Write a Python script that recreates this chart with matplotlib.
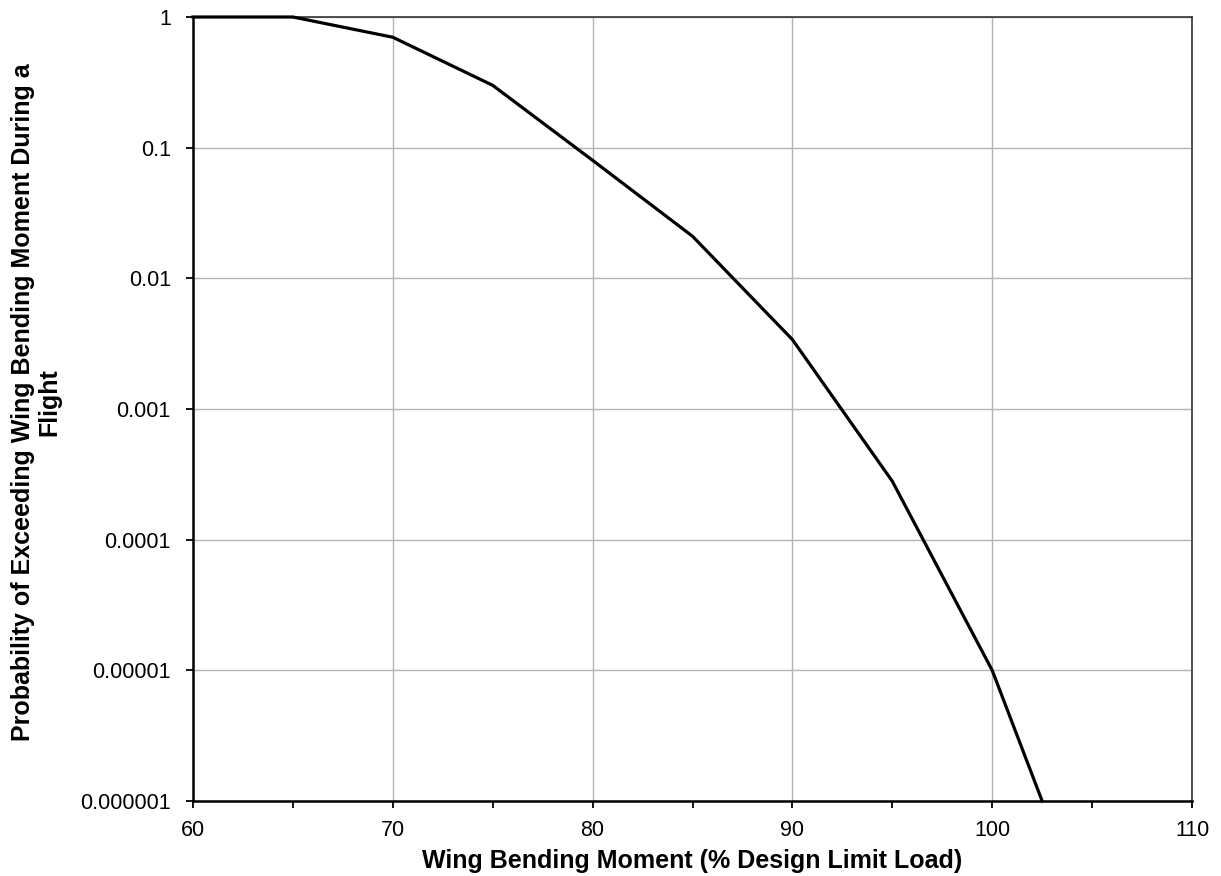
import matplotlib
matplotlib.use("Agg")
import matplotlib.pyplot as plt
from matplotlib.ticker import FixedLocator, NullLocator

# Data
bending_moment = [60, 65, 70, 75, 80, 85, 90, 95, 100, 102.5]
probability = [1.0, 1.0, 0.7, 0.3, 0.08, 0.021, 0.0034, 0.00028, 0.00001, 0.000001]
y_ticks = [1, 0.1, 0.01, 0.001, 0.0001, 0.00001, 0.000001]
y_tick_labels = ["1", "0.1", "0.01", "0.001", "0.0001", "0.00001", "0.000001"]
x_major = [60, 70, 80, 90, 100, 110]
x_minor = [65, 75, 85, 95, 105]
x_title = 'Wing Bending Moment (% Design Limit Load)'
y_title = 'Probability of Exceeding Wing Bending Moment During a\nFlight'

plt.rcParams['font.family'] = ['Liberation Sans', 'DejaVu Sans']

W, H = 1221, 876
fig = plt.figure(figsize=(W / 100, H / 100), dpi=100)
ax = fig.add_axes([193 / W, 1 - 801 / H, (1192 - 193) / W, (801 - 17) / H])

ax.plot(bending_moment, probability, color='black', linewidth=2.3,
        solid_joinstyle='miter', zorder=3, clip_on=False)

ax.set_yscale('log')
ax.set_xlim(60, 110)
ax.set_ylim(1e-6, 1)

ax.yaxis.set_major_locator(FixedLocator(y_ticks))
ax.yaxis.set_minor_locator(NullLocator())
ax.set_yticklabels(y_tick_labels)
ax.xaxis.set_major_locator(FixedLocator(x_major))
ax.xaxis.set_minor_locator(FixedLocator(x_minor))

ax.grid(True, which='major', color='#b3b3b3', linewidth=1.0, zorder=0)
ax.set_axisbelow(True)

ax.tick_params(axis='both', which='major', direction='out', length=5, width=1.3,
               labelsize=15.5, color='black')
ax.tick_params(axis='x', which='major', pad=9)
ax.tick_params(axis='y', which='major', pad=11)
ax.tick_params(axis='x', which='minor', direction='out', length=5, width=1.3, color='black')

for side in ['left', 'bottom']:
    ax.spines[side].set_color('black')
    ax.spines[side].set_linewidth(1.8)
for side in ['top', 'right']:
    ax.spines[side].set_color('#333333')
    ax.spines[side].set_linewidth(1.2)

fig.text(692 / W, 1 - 868 / H, x_title, fontsize=18, fontweight='bold',
         ha='center', va='baseline')
fig.text(36 / W, 1 - 402.5 / H, y_title, fontsize=18, fontweight='bold',
         ha='center', va='center', rotation=90, linespacing=1.1,
         multialignment='center')

fig.savefig('out.png', dpi=100, facecolor='white')
